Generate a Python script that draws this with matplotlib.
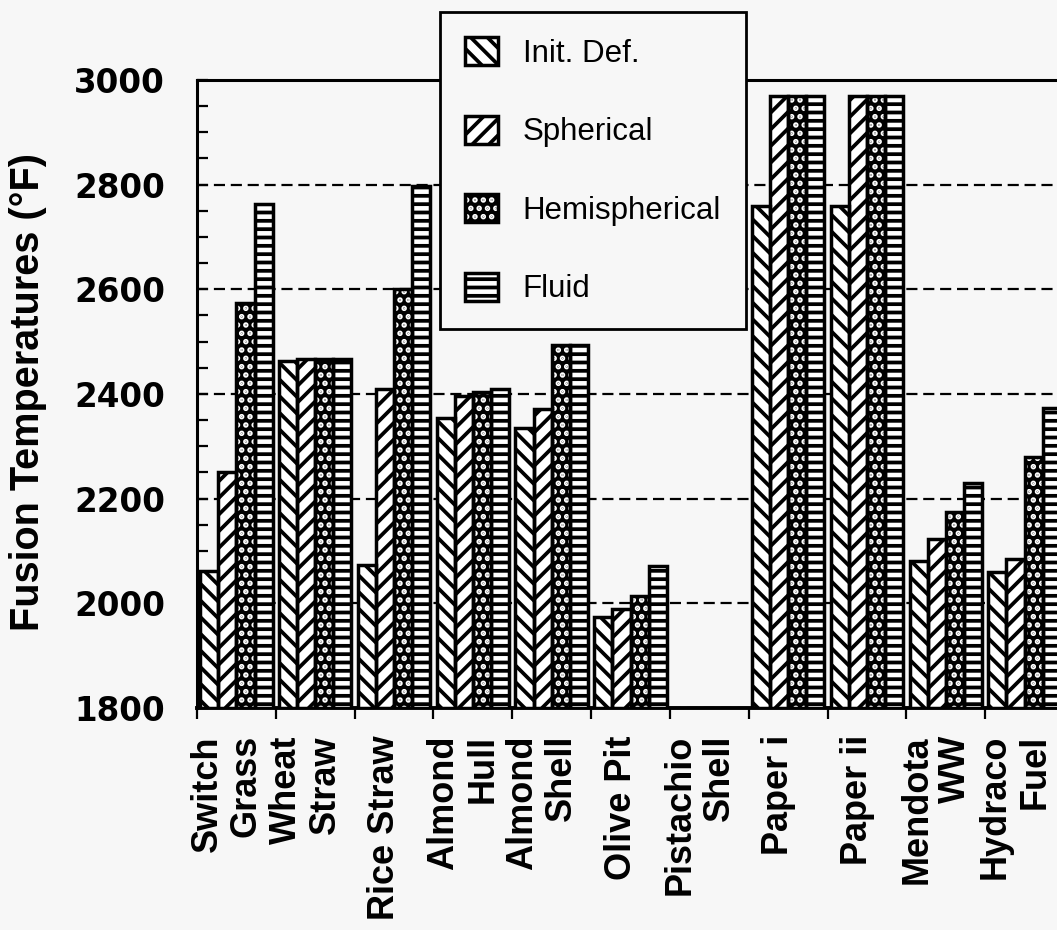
import numpy as np
import matplotlib
matplotlib.use("Agg")
import matplotlib.pyplot as plt
from matplotlib.ticker import MultipleLocator

# data
categories = ["Switch\nGrass", "Wheat\nStraw", "Rice Straw", "Almond\nHull", "Almond\nShell",
              "Olive Pit", "Pistachio\nShell", "Paper i", "Paper ii", "Mendota\nWW", "Hydraco\nFuel"]
series = ["Init. Def.", "Spherical", "Hemispherical", "Fluid"]
init_def = [2062, 2463, 2073, 2355, 2335, 1973, np.nan, 2759, 2759, 2080, 2059]
spherical = [2251, 2467, 2409, 2397, 2372, 1989, np.nan, 2970, 2970, 2123, 2084]
hemispherical = [2573, 2467, 2600, 2403, 2493, 2014, np.nan, 2970, 2970, 2175, 2279]
fluid = [2764, 2467, 2797, 2409, 2493, 2072, np.nan, 2970, 2970, 2230, 2374]

# hatch, face colour, hatch colour for each series
hatches = ["\\\\", "//", "..", "--"]
faces = ["white", "white", "black", "white"]
hatch_cols = ["black", "black", "white", "black"]
bg = "#f7f7f7"

plt.rcParams["hatch.linewidth"] = 2.7

fig = plt.figure(figsize=(10.57, 9.30), dpi=100, facecolor=bg)
ax = fig.add_axes([197 / 1057, 1 - 708 / 930, (1064 - 197) / 1057, (708 - 80) / 930])
ax.set_facecolor(bg)

ymin, ymax = 1800, 3000
x = np.arange(len(categories))
w = 0.23
handles = []
for j, vals in enumerate([init_def, spherical, hemispherical, fluid]):
    v = np.array(vals, dtype=float)
    pos = x + 0.04 + w * j + w / 2
    # filled + hatched body, then a black outline on top
    body = ax.bar(pos, v - ymin, width=w, bottom=ymin, facecolor=faces[j],
                  edgecolor=hatch_cols[j], linewidth=0, hatch=hatches[j], zorder=3)
    outline = ax.bar(pos, v - ymin, width=w, bottom=ymin, fill=False,
                     edgecolor="black", linewidth=2.5, zorder=4)
    handles.append((body, outline))

ax.set_xlim(0, len(categories))
ax.set_ylim(ymin, ymax)

# y axis
ax.set_yticks(np.arange(1800, 3001, 200))
ax.yaxis.set_minor_locator(MultipleLocator(50))
ax.tick_params(axis="y", which="both", direction="in", length=8, width=1.6, pad=23,
               right=False)
for lab in ax.get_yticklabels():
    lab.set_fontfamily("DejaVu Sans")
    lab.set_fontweight("bold")
    lab.set_fontsize(23.5)

# x axis: boundary ticks, category labels in between
ax.set_xticks(np.arange(len(categories) + 1))
ax.set_xticklabels([])
ax.tick_params(axis="x", which="major", direction="out", length=8, width=1.6)
ax.set_xticks(x + 0.5 - 0.12, categories, minor=True)
ax.tick_params(axis="x", which="minor", length=0, pad=19.5)
for lab in ax.get_xticklabels(minor=True):
    lab.set_rotation(90)
    lab.set_verticalalignment("top")
    lab.set_horizontalalignment("center")
    lab.set_multialignment("right")
    lab.set_fontfamily("Liberation Sans")
    lab.set_fontweight("bold")
    lab.set_fontsize(26)
    lab.set_linespacing(1.15)

ax.yaxis.grid(True, which="major", color="black", linestyle=(0, (5, 2.6)), linewidth=1.6)
ax.set_axisbelow(True)

for s in ["left", "top", "bottom"]:
    ax.spines[s].set_linewidth(2.2)
ax.spines["bottom"].set_linewidth(2.8)
ax.spines["right"].set_visible(False)

fig.text(28 / 1057, 1 - 392 / 930, "Fusion Temperatures (°F)", rotation=90,
         ha="center", va="center", fontfamily="Liberation Sans", fontweight="bold",
         fontsize=28.5)

leg = fig.legend(handles, series, loc="upper left", bbox_to_anchor=(440 / 1057, 1 - 12 / 930),
                 borderaxespad=0, frameon=True, fancybox=False, framealpha=1,
                 facecolor=bg, edgecolor="black",
                 prop={"family": "Liberation Sans", "size": 22.5},
                 handlelength=1.05, handleheight=1.0, handletextpad=0.8,
                 labelspacing=1.5, borderpad=0.8)
leg.get_frame().set_linewidth(2)

fig.savefig("out.png", dpi=100, facecolor=bg)
